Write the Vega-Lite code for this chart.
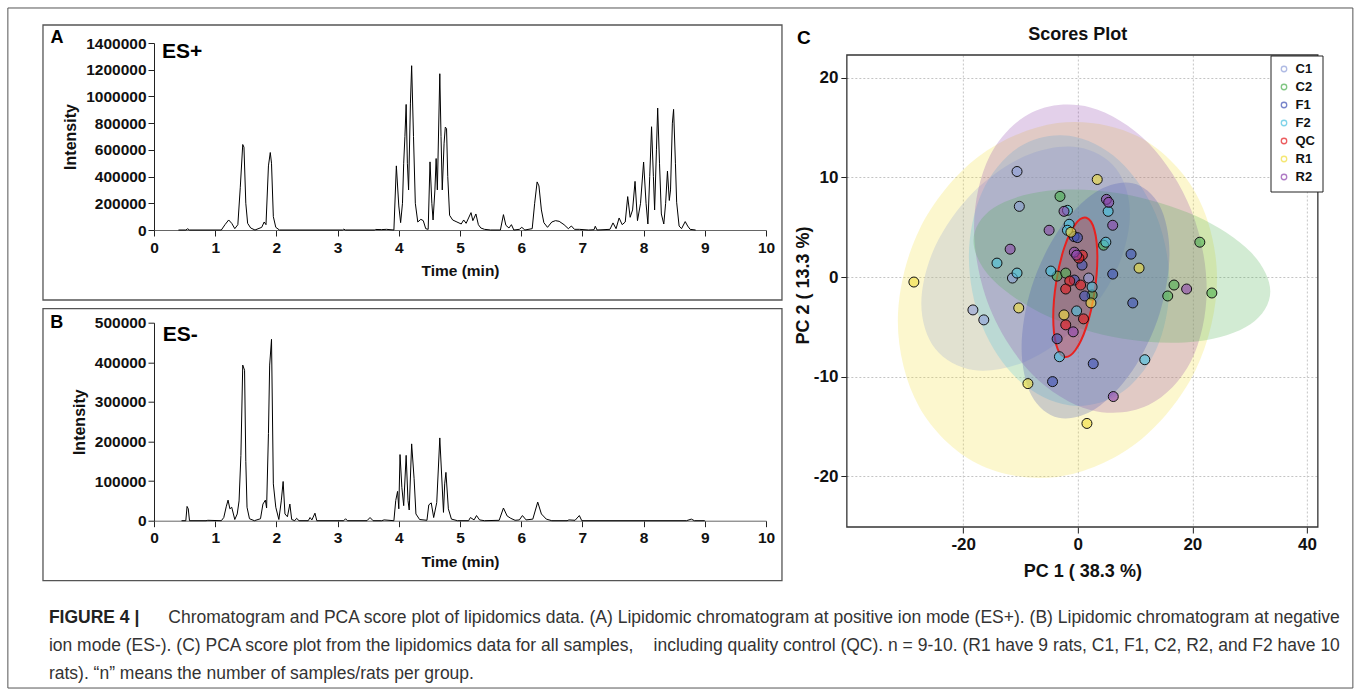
{
  "$schema": "https://vega.github.io/schema/vega-lite/v6.json",
  "padding": 7,
  "background": "white",
  "config": {
    "font": "Liberation Sans",
    "view": {"stroke": null},
    "axis": {"labelFont": "Liberation Sans", "titleFont": "Liberation Sans", "labelFontWeight": "bold", "titleFontWeight": "bold", "labelColor": "#111", "titleColor": "#111", "domainColor": "#222", "tickColor": "#222", "grid": false, "labelFontSize": 15.5, "titleFontSize": 15.5, "tickSize": 6, "labelOverlap": false, "labelFlush": false, "labelExpr": "'' + datum.value"}
  },
  "datasets": {
    "esp": [
      {"t":0.40,"v":0},{"t":0.52,"v":0},{"t":0.55,"v":9000},{"t":0.58,"v":0},{"t":1.10,"v":0},{"t":1.16,"v":40000},{"t":1.22,"v":75000},{"t":1.27,"v":50000},{"t":1.32,"v":10000},{"t":1.37,"v":40000},{"t":1.41,"v":320000},{"t":1.45,"v":640000},{"t":1.47,"v":620000},{"t":1.50,"v":200000},{"t":1.53,"v":50000},{"t":1.58,"v":15000},{"t":1.65,"v":0},{"t":1.76,"v":20000},{"t":1.80,"v":60000},{"t":1.83,"v":40000},{"t":1.87,"v":480000},{"t":1.90,"v":580000},{"t":1.92,"v":500000},{"t":1.95,"v":100000},{"t":1.99,"v":20000},{"t":2.05,"v":0},{"t":3.08,"v":0},{"t":3.10,"v":6000},{"t":3.13,"v":0},{"t":3.60,"v":0},{"t":3.62,"v":4000},{"t":3.72,"v":3000},{"t":3.80,"v":5000},{"t":3.92,"v":0},{"t":3.96,"v":480000},{"t":4.00,"v":180000},{"t":4.03,"v":55000},{"t":4.06,"v":200000},{"t":4.08,"v":500000},{"t":4.10,"v":700000},{"t":4.12,"v":940000},{"t":4.14,"v":500000},{"t":4.16,"v":300000},{"t":4.19,"v":950000},{"t":4.21,"v":1230000},{"t":4.24,"v":700000},{"t":4.27,"v":200000},{"t":4.31,"v":60000},{"t":4.36,"v":80000},{"t":4.40,"v":70000},{"t":4.44,"v":10000},{"t":4.48,"v":5000},{"t":4.51,"v":510000},{"t":4.54,"v":200000},{"t":4.56,"v":75000},{"t":4.59,"v":300000},{"t":4.61,"v":535000},{"t":4.63,"v":300000},{"t":4.67,"v":1170000},{"t":4.69,"v":700000},{"t":4.71,"v":300000},{"t":4.74,"v":650000},{"t":4.76,"v":770000},{"t":4.78,"v":760000},{"t":4.80,"v":400000},{"t":4.83,"v":110000},{"t":4.88,"v":75000},{"t":4.95,"v":60000},{"t":5.02,"v":45000},{"t":5.06,"v":75000},{"t":5.10,"v":50000},{"t":5.14,"v":90000},{"t":5.18,"v":130000},{"t":5.21,"v":70000},{"t":5.26,"v":120000},{"t":5.30,"v":40000},{"t":5.34,"v":15000},{"t":5.40,"v":5000},{"t":5.50,"v":0},{"t":5.66,"v":0},{"t":5.71,"v":115000},{"t":5.75,"v":35000},{"t":5.80,"v":15000},{"t":5.84,"v":40000},{"t":5.88,"v":0},{"t":5.97,"v":5000},{"t":6.01,"v":20000},{"t":6.06,"v":0},{"t":6.18,"v":10000},{"t":6.22,"v":200000},{"t":6.26,"v":360000},{"t":6.29,"v":330000},{"t":6.33,"v":150000},{"t":6.37,"v":55000},{"t":6.43,"v":20000},{"t":6.50,"v":60000},{"t":6.56,"v":70000},{"t":6.62,"v":65000},{"t":6.70,"v":40000},{"t":6.77,"v":10000},{"t":6.82,"v":30000},{"t":6.87,"v":5000},{"t":6.95,"v":5000},{"t":7.10,"v":0},{"t":7.19,"v":2000},{"t":7.21,"v":28000},{"t":7.24,"v":0},{"t":7.45,"v":5000},{"t":7.50,"v":53000},{"t":7.55,"v":10000},{"t":7.60,"v":90000},{"t":7.65,"v":40000},{"t":7.70,"v":60000},{"t":7.74,"v":250000},{"t":7.78,"v":95000},{"t":7.82,"v":150000},{"t":7.86,"v":364000},{"t":7.90,"v":70000},{"t":7.95,"v":200000},{"t":8.00,"v":509000},{"t":8.04,"v":200000},{"t":8.07,"v":45000},{"t":8.10,"v":400000},{"t":8.13,"v":773000},{"t":8.16,"v":400000},{"t":8.18,"v":150000},{"t":8.21,"v":600000},{"t":8.23,"v":913000},{"t":8.26,"v":500000},{"t":8.29,"v":120000},{"t":8.33,"v":45000},{"t":8.36,"v":200000},{"t":8.39,"v":441000},{"t":8.42,"v":221000},{"t":8.44,"v":300000},{"t":8.47,"v":800000},{"t":8.49,"v":903000},{"t":8.52,"v":500000},{"t":8.54,"v":208000},{"t":8.58,"v":30000},{"t":8.62,"v":10000},{"t":8.68,"v":63000},{"t":8.72,"v":30000},{"t":8.76,"v":5000},{"t":8.85,"v":0}
    ],
    "esm": [
      {"t":0.45,"v":0},{"t":0.52,"v":0},{"t":0.54,"v":36000},{"t":0.56,"v":30000},{"t":0.58,"v":0},{"t":0.85,"v":0},{"t":0.88,"v":1000},{"t":1.10,"v":0},{"t":1.14,"v":8000},{"t":1.18,"v":35000},{"t":1.21,"v":52000},{"t":1.24,"v":30000},{"t":1.27,"v":34000},{"t":1.32,"v":3000},{"t":1.36,"v":17000},{"t":1.39,"v":50000},{"t":1.42,"v":165000},{"t":1.45,"v":393000},{"t":1.48,"v":380000},{"t":1.50,"v":150000},{"t":1.52,"v":34000},{"t":1.56,"v":5000},{"t":1.64,"v":0},{"t":1.74,"v":5000},{"t":1.78,"v":42000},{"t":1.82,"v":52000},{"t":1.84,"v":32000},{"t":1.87,"v":220000},{"t":1.89,"v":393000},{"t":1.92,"v":458000},{"t":1.95,"v":93000},{"t":1.99,"v":34000},{"t":2.04,"v":3000},{"t":2.08,"v":50000},{"t":2.11,"v":99000},{"t":2.14,"v":17000},{"t":2.18,"v":10000},{"t":2.22,"v":42000},{"t":2.25,"v":3000},{"t":2.30,"v":0},{"t":2.33,"v":6000},{"t":2.37,"v":0},{"t":2.52,"v":0},{"t":2.55,"v":8000},{"t":2.58,"v":2000},{"t":2.63,"v":19000},{"t":2.66,"v":0},{"t":3.10,"v":0},{"t":3.13,"v":5000},{"t":3.16,"v":0},{"t":3.48,"v":0},{"t":3.53,"v":8000},{"t":3.58,"v":0},{"t":3.72,"v":0},{"t":3.76,"v":2000},{"t":3.92,"v":0},{"t":3.95,"v":51000},{"t":3.98,"v":74000},{"t":4.00,"v":30000},{"t":4.02,"v":167000},{"t":4.05,"v":84000},{"t":4.08,"v":38000},{"t":4.12,"v":165000},{"t":4.15,"v":51000},{"t":4.17,"v":27000},{"t":4.21,"v":194000},{"t":4.25,"v":106000},{"t":4.28,"v":17000},{"t":4.34,"v":3000},{"t":4.46,"v":1000},{"t":4.49,"v":40000},{"t":4.53,"v":45000},{"t":4.57,"v":8000},{"t":4.62,"v":46000},{"t":4.67,"v":209000},{"t":4.73,"v":21000},{"t":4.75,"v":93000},{"t":4.77,"v":122000},{"t":4.81,"v":30000},{"t":4.86,"v":4000},{"t":4.96,"v":0},{"t":5.14,"v":0},{"t":5.17,"v":8000},{"t":5.23,"v":2000},{"t":5.27,"v":13000},{"t":5.32,"v":2000},{"t":5.40,"v":0},{"t":5.64,"v":1000},{"t":5.71,"v":32000},{"t":5.77,"v":12000},{"t":5.83,"v":6000},{"t":5.90,"v":1000},{"t":5.97,"v":2000},{"t":6.02,"v":13000},{"t":6.08,"v":2000},{"t":6.19,"v":4000},{"t":6.27,"v":47000},{"t":6.33,"v":17000},{"t":6.41,"v":4000},{"t":6.50,"v":0},{"t":6.75,"v":0},{"t":6.78,"v":2000},{"t":6.88,"v":1000},{"t":6.95,"v":13000},{"t":6.99,"v":0},{"t":8.70,"v":0},{"t":8.78,"v":4000},{"t":8.83,"v":0},{"t":9.00,"v":0}
    ],
    "ell": [
      {"g":"R1","i":0,"x":24.3,"y":-0.15},{"g":"R1","i":1,"x":20.57,"y":8.45},{"g":"R1","i":2,"x":10.38,"y":14.16},{"g":"R1","i":3,"x":-3.55,"y":15.47},{"g":"R1","i":4,"x":-17.48,"y":12.02},{"g":"R1","i":5,"x":-27.67,"y":4.73},{"g":"R1","i":6,"x":-31.4,"y":-4.45},{"g":"R1","i":7,"x":-27.67,"y":-13.05},{"g":"R1","i":8,"x":-17.48,"y":-18.76},{"g":"R1","i":9,"x":-3.55,"y":-20.07},{"g":"R1","i":10,"x":10.38,"y":-16.62},{"g":"R1","i":11,"x":20.57,"y":-9.33},
      {"g":"C1","i":0,"x":9.1,"y":6.35},{"g":"C1","i":1,"x":6.66,"y":10.91},{"g":"C1","i":2,"x":0,"y":13.04},{"g":"C1","i":3,"x":-9.1,"y":12.17},{"g":"C1","i":4,"x":-18.2,"y":8.54},{"g":"C1","i":5,"x":-24.86,"y":3.11},{"g":"C1","i":6,"x":-27.3,"y":-2.65},{"g":"C1","i":7,"x":-24.86,"y":-7.21},{"g":"C1","i":8,"x":-18.2,"y":-9.34},{"g":"C1","i":9,"x":-9.1,"y":-8.47},{"g":"C1","i":10,"x":0,"y":-4.84},{"g":"C1","i":11,"x":6.66,"y":0.59},
      {"g":"F2","i":0,"x":16.0,"y":-0.71},{"g":"F2","i":1,"x":13.66,"y":6.24},{"g":"F2","i":2,"x":7.25,"y":11.69},{"g":"F2","i":3,"x":-1.5,"y":14.18},{"g":"F2","i":4,"x":-10.25,"y":13.05},{"g":"F2","i":5,"x":-16.66,"y":8.59},{"g":"F2","i":6,"x":-19.0,"y":2.01},{"g":"F2","i":7,"x":-16.66,"y":-4.94},{"g":"F2","i":8,"x":-10.25,"y":-10.39},{"g":"F2","i":9,"x":-1.5,"y":-12.88},{"g":"F2","i":10,"x":7.25,"y":-11.75},{"g":"F2","i":11,"x":13.66,"y":-7.29},
      {"g":"R2","i":0,"x":22.5,"y":-1.25},{"g":"R2","i":1,"x":19.78,"y":6.76},{"g":"R2","i":2,"x":12.35,"y":13.45},{"g":"R2","i":3,"x":2.2,"y":17.04},{"g":"R2","i":4,"x":-7.95,"y":16.55},{"g":"R2","i":5,"x":-15.38,"y":12.13},{"g":"R2","i":6,"x":-18.1,"y":4.95},{"g":"R2","i":7,"x":-15.38,"y":-3.06},{"g":"R2","i":8,"x":-7.95,"y":-9.75},{"g":"R2","i":9,"x":2.2,"y":-13.34},{"g":"R2","i":10,"x":12.35,"y":-12.85},{"g":"R2","i":11,"x":19.78,"y":-8.43},
      {"g":"C2","i":0,"x":33.6,"y":-1.44},{"g":"C2","i":1,"x":30.13,"y":2.53},{"g":"C2","i":2,"x":20.65,"y":6.12},{"g":"C2","i":3,"x":7.7,"y":8.37},{"g":"C2","i":4,"x":-5.25,"y":8.67},{"g":"C2","i":5,"x":-14.73,"y":6.93},{"g":"C2","i":6,"x":-18.2,"y":3.64},{"g":"C2","i":7,"x":-14.73,"y":-0.33},{"g":"C2","i":8,"x":-5.25,"y":-3.93},{"g":"C2","i":9,"x":7.7,"y":-6.17},{"g":"C2","i":10,"x":20.65,"y":-6.47},{"g":"C2","i":11,"x":30.13,"y":-4.73},
      {"g":"F1","i":0,"x":16.0,"y":2.39},{"g":"F1","i":1,"x":14.27,"y":7.19},{"g":"F1","i":2,"x":9.55,"y":9.43},{"g":"F1","i":3,"x":3.1,"y":8.52},{"g":"F1","i":4,"x":-3.35,"y":4.69},{"g":"F1","i":5,"x":-8.07,"y":-1.02},{"g":"F1","i":6,"x":-9.8,"y":-7.09},{"g":"F1","i":7,"x":-8.07,"y":-11.89},{"g":"F1","i":8,"x":-3.35,"y":-14.13},{"g":"F1","i":9,"x":3.1,"y":-13.22},{"g":"F1","i":10,"x":9.55,"y":-9.39},{"g":"F1","i":11,"x":14.27,"y":-3.68},
      {"g":"QC","i":0,"x":3.42,"y":1.98},{"g":"QC","i":1,"x":2.9,"y":4.74},{"g":"QC","i":2,"x":1.5,"y":5.95},{"g":"QC","i":3,"x":-0.43,"y":5.29},{"g":"QC","i":4,"x":-2.36,"y":2.94},{"g":"QC","i":5,"x":-3.76,"y":-0.48},{"g":"QC","i":6,"x":-4.28,"y":-4.04},{"g":"QC","i":7,"x":-3.76,"y":-6.8},{"g":"QC","i":8,"x":-2.36,"y":-8.01},{"g":"QC","i":9,"x":-0.43,"y":-7.35},{"g":"QC","i":10,"x":1.5,"y":-5.0},{"g":"QC","i":11,"x":2.9,"y":-1.58}
    ],
    "pts": [
      {"g":"C1","x":-10.6,"y":10.6},{"g":"C1","x":-10.2,"y":7.1},{"g":"C1","x":-11.4,"y":-0.1},{"g":"C1","x":1.9,"y":-0.1},{"g":"C1","x":-18.3,"y":-3.3},{"g":"C1","x":-16.4,"y":-4.3},
      {"g":"C2","x":-3.1,"y":8.1},{"g":"C2","x":4.5,"y":3.2},{"g":"C2","x":-3.6,"y":0.1},{"g":"C2","x":-2.1,"y":0.4},{"g":"C2","x":2.5,"y":-1.8},{"g":"C2","x":21.3,"y":3.5},{"g":"C2","x":16.8,"y":-0.8},{"g":"C2","x":15.7,"y":-1.9},{"g":"C2","x":23.4,"y":-1.6},
      {"g":"F1","x":-0.64,"y":4.06},{"g":"F1","x":-0.06,"y":3.96},{"g":"F1","x":9.3,"y":2.3},{"g":"F1","x":0.75,"y":1.2},{"g":"F1","x":6.1,"y":0.3},{"g":"F1","x":-0.6,"y":-0.3},{"g":"F1","x":1.2,"y":-1.9},{"g":"F1","x":9.6,"y":-2.6},{"g":"F1","x":-3.6,"y":-6.2},{"g":"F1","x":2.7,"y":-8.7},{"g":"F1","x":-4.4,"y":-10.5},
      {"g":"F2","x":5.3,"y":6.6},{"g":"F2","x":-1.8,"y":6.7},{"g":"F2","x":-1.5,"y":5.3},{"g":"F2","x":-1.8,"y":4.7},{"g":"F2","x":4.9,"y":3.5},{"g":"F2","x":-14.1,"y":1.4},{"g":"F2","x":-10.6,"y":0.4},{"g":"F2","x":-4.7,"y":0.6},{"g":"F2","x":2.5,"y":-1.0},{"g":"F2","x":-0.2,"y":-3.4},{"g":"F2","x":-3.2,"y":-8.0},{"g":"F2","x":11.7,"y":-8.3},
      {"g":"QC","x":0.8,"y":2.2},{"g":"QC","x":0.2,"y":1.9},{"g":"QC","x":-1.4,"y":-0.4},{"g":"QC","x":0.5,"y":-0.8},{"g":"QC","x":-2.1,"y":-1.2},{"g":"QC","x":-2.1,"y":-4.8},{"g":"QC","x":1.0,"y":-4.2},
      {"g":"R1","x":3.4,"y":9.8},{"g":"R1","x":-1.2,"y":4.5},{"g":"R1","x":10.7,"y":0.9},{"g":"R1","x":2.3,"y":-2.6},{"g":"R1","x":-28.6,"y":-0.5},{"g":"R1","x":-10.3,"y":-3.1},{"g":"R1","x":-2.4,"y":-3.8},{"g":"R1","x":-8.7,"y":-10.7},{"g":"R1","x":1.6,"y":-14.7},
      {"g":"R2","x":5.0,"y":7.8},{"g":"R2","x":5.4,"y":7.5},{"g":"R2","x":-2.4,"y":6.6},{"g":"R2","x":6.1,"y":5.2},{"g":"R2","x":-5.0,"y":4.7},{"g":"R2","x":-11.8,"y":2.8},{"g":"R2","x":-0.6,"y":2.5},{"g":"R2","x":-0.2,"y":2.2},{"g":"R2","x":19.0,"y":-1.2},{"g":"R2","x":-0.8,"y":-5.5},{"g":"R2","x":6.2,"y":-12.0}
    ]
  },
  "spacing": -776.15,
  "hconcat": [
    {
      "spacing": 6.7,
      "vconcat": [
        {
          "width": 612,
          "height": 187,
          "resolve": {"axis": {"x": "independent", "y": "independent"}},
          "layer": [
            {
              "data": {"name": "esp"},
              "mark": {"type": "line", "color": "black", "strokeWidth": 1},
              "encoding": {
                "x": {"field": "t", "type": "quantitative", "scale": {"domain": [0, 10], "nice": false, "zero": false}, "axis": {"orient": "bottom", "values": [0,1,2,3,4,5,6,7,8,9,10], "title": "Time (min)", "labelPadding": 4, "titlePadding": 8, "domainColor": "#666", "labelOverlap": false}},
                "y": {"field": "v", "type": "quantitative", "scale": {"domain": [0, 1400000], "nice": false, "zero": false}, "axis": {"orient": "left", "values": [0,200000,400000,600000,800000,1000000,1200000,1400000], "title": "Intensity", "labelPadding": 2, "titlePadding": 7, "titleFontSize": 16, "labelOverlap": false}}
              }
            },
            {
              "data": {"values": [{"k": 1}]},
              "mark": {"type": "rect", "filled": false, "stroke": "#555", "strokeWidth": 1.3},
              "encoding": {
                "x": {"datum": -1.814, "type": "quantitative", "axis": null},
                "x2": {"datum": 10.261},
                "y": {"datum": 1534750, "type": "quantitative", "axis": null},
                "y2": {"datum": -524060}
              }
            },
            {
              "data": {"values": [{"s": "A"}]},
              "mark": {"type": "text", "fontSize": 18, "fontWeight": "bold", "align": "center", "baseline": "middle", "color": "black"},
              "encoding": {
                "x": {"datum": -1.585, "type": "quantitative", "axis": null},
                "y": {"datum": 1433700, "type": "quantitative", "axis": null},
                "text": {"field": "s"}
              }
            },
            {
              "data": {"values": [{"s": "ES+"}]},
              "mark": {"type": "text", "fontSize": 21, "fontWeight": "bold", "align": "left", "baseline": "middle", "color": "black"},
              "encoding": {
                "x": {"datum": 0.131, "type": "quantitative", "axis": null},
                "y": {"datum": 1332600, "type": "quantitative", "axis": null},
                "text": {"field": "s"}
              }
            }
          ]
        },
        {
          "width": 612,
          "height": 198,
          "resolve": {"axis": {"x": "independent", "y": "independent"}},
          "layer": [
            {
              "data": {"name": "esm"},
              "mark": {"type": "line", "color": "black", "strokeWidth": 1},
              "encoding": {
                "x": {"field": "t", "type": "quantitative", "scale": {"domain": [0, 10], "nice": false, "zero": false}, "axis": {"orient": "bottom", "values": [0,1,2,3,4,5,6,7,8,9,10], "title": "Time (min)", "labelPadding": 4, "titlePadding": 8, "domainColor": "#666", "labelOverlap": false}},
                "y": {"field": "v", "type": "quantitative", "scale": {"domain": [0, 500000], "nice": false, "zero": false}, "axis": {"orient": "left", "values": [0,100000,200000,300000,400000,500000], "title": "Intensity", "labelPadding": 2, "titlePadding": 7, "titleFontSize": 16, "labelOverlap": false}}
              }
            },
            {
              "data": {"values": [{"k": 1}]},
              "mark": {"type": "rect", "filled": false, "stroke": "#555", "strokeWidth": 1.3},
              "encoding": {
                "x": {"datum": -1.814, "type": "quantitative", "axis": null},
                "x2": {"datum": 10.261},
                "y": {"datum": 535350, "type": "quantitative", "axis": null},
                "y2": {"datum": -151515}
              }
            },
            {
              "data": {"values": [{"s": "B"}]},
              "mark": {"type": "text", "fontSize": 18, "fontWeight": "bold", "align": "center", "baseline": "middle", "color": "black"},
              "encoding": {
                "x": {"datum": -1.59, "type": "quantitative", "axis": null},
                "y": {"datum": 498700, "type": "quantitative", "axis": null},
                "text": {"field": "s"}
              }
            },
            {
              "data": {"values": [{"s": "ES-"}]},
              "mark": {"type": "text", "fontSize": 21, "fontWeight": "bold", "align": "left", "baseline": "middle", "color": "black"},
              "encoding": {
                "x": {"datum": 0.144, "type": "quantitative", "axis": null},
                "y": {"datum": 469700, "type": "quantitative", "axis": null},
                "text": {"field": "s"}
              }
            }
          ]
        }
      ]
    },
    {
      "width": 471,
      "height": 484,
      "layer": [
        {
          "data": {"name": "ell"},
          "mark": {"type": "line", "filled": true, "interpolate": "cardinal-closed", "fillOpacity": 0.25, "strokeOpacity": 0, "strokeWidth": 0},
          "encoding": {
            "x": {"field": "x", "type": "quantitative", "scale": {"domain": [-40.3, 41.9], "nice": false, "zero": false}, "axis": {"values": [-20, 0, 20, 40], "title": "PC 1 ( 38.3 %)", "grid": true, "gridDash": [2, 2], "gridColor": "#c4c4c4", "labelFontSize": 17, "titleFontSize": 18, "labelPadding": 3, "titlePadding": 10, "domain": false, "labelOverlap": false}},
            "y": {"field": "y", "type": "quantitative", "scale": {"domain": [-25.1, 23.505], "nice": false, "zero": false}, "axis": {"values": [-20, -10, 0, 10, 20], "title": "PC 2 ( 13.3 %)", "grid": true, "gridDash": [2, 2], "gridColor": "#c4c4c4", "labelFontSize": 17, "titleFontSize": 18, "labelPadding": 3, "titlePadding": 1, "domain": false, "labelOverlap": false}},
            "fill": {"field": "g", "type": "nominal", "scale": {"range": ["#8f9fd9","#4caf50","#3f51b5","#4dc3e0","#e41a1c","#f2de3a","#8e44ad"]}, "legend": null},
            "order": {"field": "i", "type": "quantitative"}
          }
        },
        {
          "data": {"name": "ell"},
          "transform": [{"filter": {"field": "g", "equal": "QC"}}],
          "mark": {"type": "line", "interpolate": "cardinal-closed", "stroke": "#e8211f", "strokeWidth": 2},
          "encoding": {
            "x": {"field": "x", "type": "quantitative"},
            "y": {"field": "y", "type": "quantitative"},
            "order": {"field": "i", "type": "quantitative"}
          }
        },
        {
          "data": {"name": "pts"},
          "mark": {"type": "point", "filled": true, "size": 100, "stroke": "#111", "strokeWidth": 1, "fillOpacity": 0.6, "strokeOpacity": 1},
          "encoding": {
            "x": {"field": "x", "type": "quantitative"},
            "y": {"field": "y", "type": "quantitative"},
            "fill": {"field": "g", "type": "nominal", "legend": null}
          }
        },
        {
          "data": {"name": "pts"},
          "mark": {"type": "point", "filled": false, "size": 0, "strokeWidth": 1.3},
          "encoding": {
            "x": {"field": "x", "type": "quantitative"},
            "y": {"field": "y", "type": "quantitative"},
            "color": {"field": "g", "type": "nominal", "scale": {"domain": ["C1","C2","F1","F2","QC","R1","R2"], "range": ["#8f9fd9","#4caf50","#3f51b5","#4dc3e0","#e41a1c","#f2de3a","#8e44ad"]}, "legend": {"orient": "none", "legendX": 1116.5, "legendY": 12.5, "title": null, "strokeColor": "#222", "fillColor": "white", "padding": 7, "rowPadding": 4, "labelFontSize": 13, "labelFontWeight": "bold", "labelColor": "#111", "labelFont": "Liberation Sans", "symbolSize": 30, "symbolStrokeWidth": 1.3, "symbolType": "circle", "labelOffset": 5}}
          }
        },
        {
          "data": {"values": [{"k": 1}]},
          "mark": {"type": "rect", "fill": "white", "stroke": null},
          "encoding": {
            "x": {"datum": -40.3, "type": "quantitative"},
            "x2": {"datum": 41.9},
            "y": {"datum": 22.38, "type": "quantitative"},
            "y2": {"datum": 23.7}
          }
        },
        {
          "data": {"values": [{"k": 1}]},
          "mark": {"type": "rect", "filled": false, "stroke": "#333", "strokeWidth": 1.3},
          "encoding": {
            "x": {"datum": -40.3, "type": "quantitative"},
            "x2": {"datum": 41.9},
            "y": {"datum": 22.3, "type": "quantitative"},
            "y2": {"datum": -25.1}
          }
        },
        {
          "data": {"values": [{"s": "Scores Plot"}]},
          "mark": {"type": "text", "fontSize": 18, "fontWeight": "bold", "align": "center", "baseline": "middle", "color": "#111"},
          "encoding": {
            "x": {"datum": 0.0, "type": "quantitative"},
            "y": {"datum": 24.31, "type": "quantitative"},
            "text": {"field": "s"}
          }
        },
        {
          "data": {"values": [{"s": "C"}]},
          "mark": {"type": "text", "fontSize": 19, "fontWeight": "bold", "align": "center", "baseline": "middle", "color": "black"},
          "encoding": {
            "x": {"datum": -47.8, "type": "quantitative"},
            "y": {"datum": 24.04, "type": "quantitative"},
            "text": {"field": "s"}
          }
        },
        {
          "data": {"values": [{"k": 1}]},
          "mark": {"type": "rect", "filled": false, "stroke": "#555", "strokeWidth": 1},
          "encoding": {
            "x": {"datum": -186.72, "type": "quantitative"},
            "x2": {"datum": 48.01},
            "y": {"datum": 27.02, "type": "quantitative"},
            "y2": {"datum": -41.27}
          }
        },
        {
          "data": {"values": [{"txt": "FIGURE 4 |"}]},
          "mark": {"type": "text", "align": "left", "baseline": "middle", "fontWeight": "bold", "fontSize": 17.5, "color": "#222"},
          "encoding": {
            "x": {"datum": -179.56, "type": "quantitative"},
            "y": {"datum": -34.24, "type": "quantitative"},
            "text": {"field": "txt"}
          }
        },
        {
          "data": {"values": [{"txt": "Chromatogram and PCA score plot of lipidomics data. (A) Lipidomic chromatogram at positive ion mode (ES+). (B) Lipidomic chromatogram at negative"}]},
          "mark": {"type": "text", "align": "right", "baseline": "middle", "fontSize": 17.5, "color": "#333"},
          "encoding": {
            "x": {"datum": 45.74, "type": "quantitative"},
            "y": {"datum": -34.24, "type": "quantitative"},
            "text": {"field": "txt"}
          }
        },
        {
          "data": {"values": [{"txt": "ion mode (ES-). (C) PCA score plot from the lipidomics data for all samples,"}]},
          "mark": {"type": "text", "align": "left", "baseline": "middle", "fontSize": 17.5, "color": "#333"},
          "encoding": {
            "x": {"datum": -179.56, "type": "quantitative"},
            "y": {"datum": -37.05, "type": "quantitative"},
            "text": {"field": "txt"}
          }
        },
        {
          "data": {"values": [{"txt": "including quality control (QC). n = 9-10. (R1 have 9 rats, C1, F1, C2, R2, and F2 have 10"}]},
          "mark": {"type": "text", "align": "right", "baseline": "middle", "fontSize": 17.5, "color": "#333"},
          "encoding": {
            "x": {"datum": 45.74, "type": "quantitative"},
            "y": {"datum": -37.05, "type": "quantitative"},
            "text": {"field": "txt"}
          }
        },
        {
          "data": {"values": [{"txt": "rats). “n” means the number of samples/rats per group."}]},
          "mark": {"type": "text", "align": "left", "baseline": "middle", "fontSize": 17.5, "color": "#333"},
          "encoding": {
            "x": {"datum": -179.56, "type": "quantitative"},
            "y": {"datum": -39.87, "type": "quantitative"},
            "text": {"field": "txt"}
          }
        }
      ]
    }
  ]
}
